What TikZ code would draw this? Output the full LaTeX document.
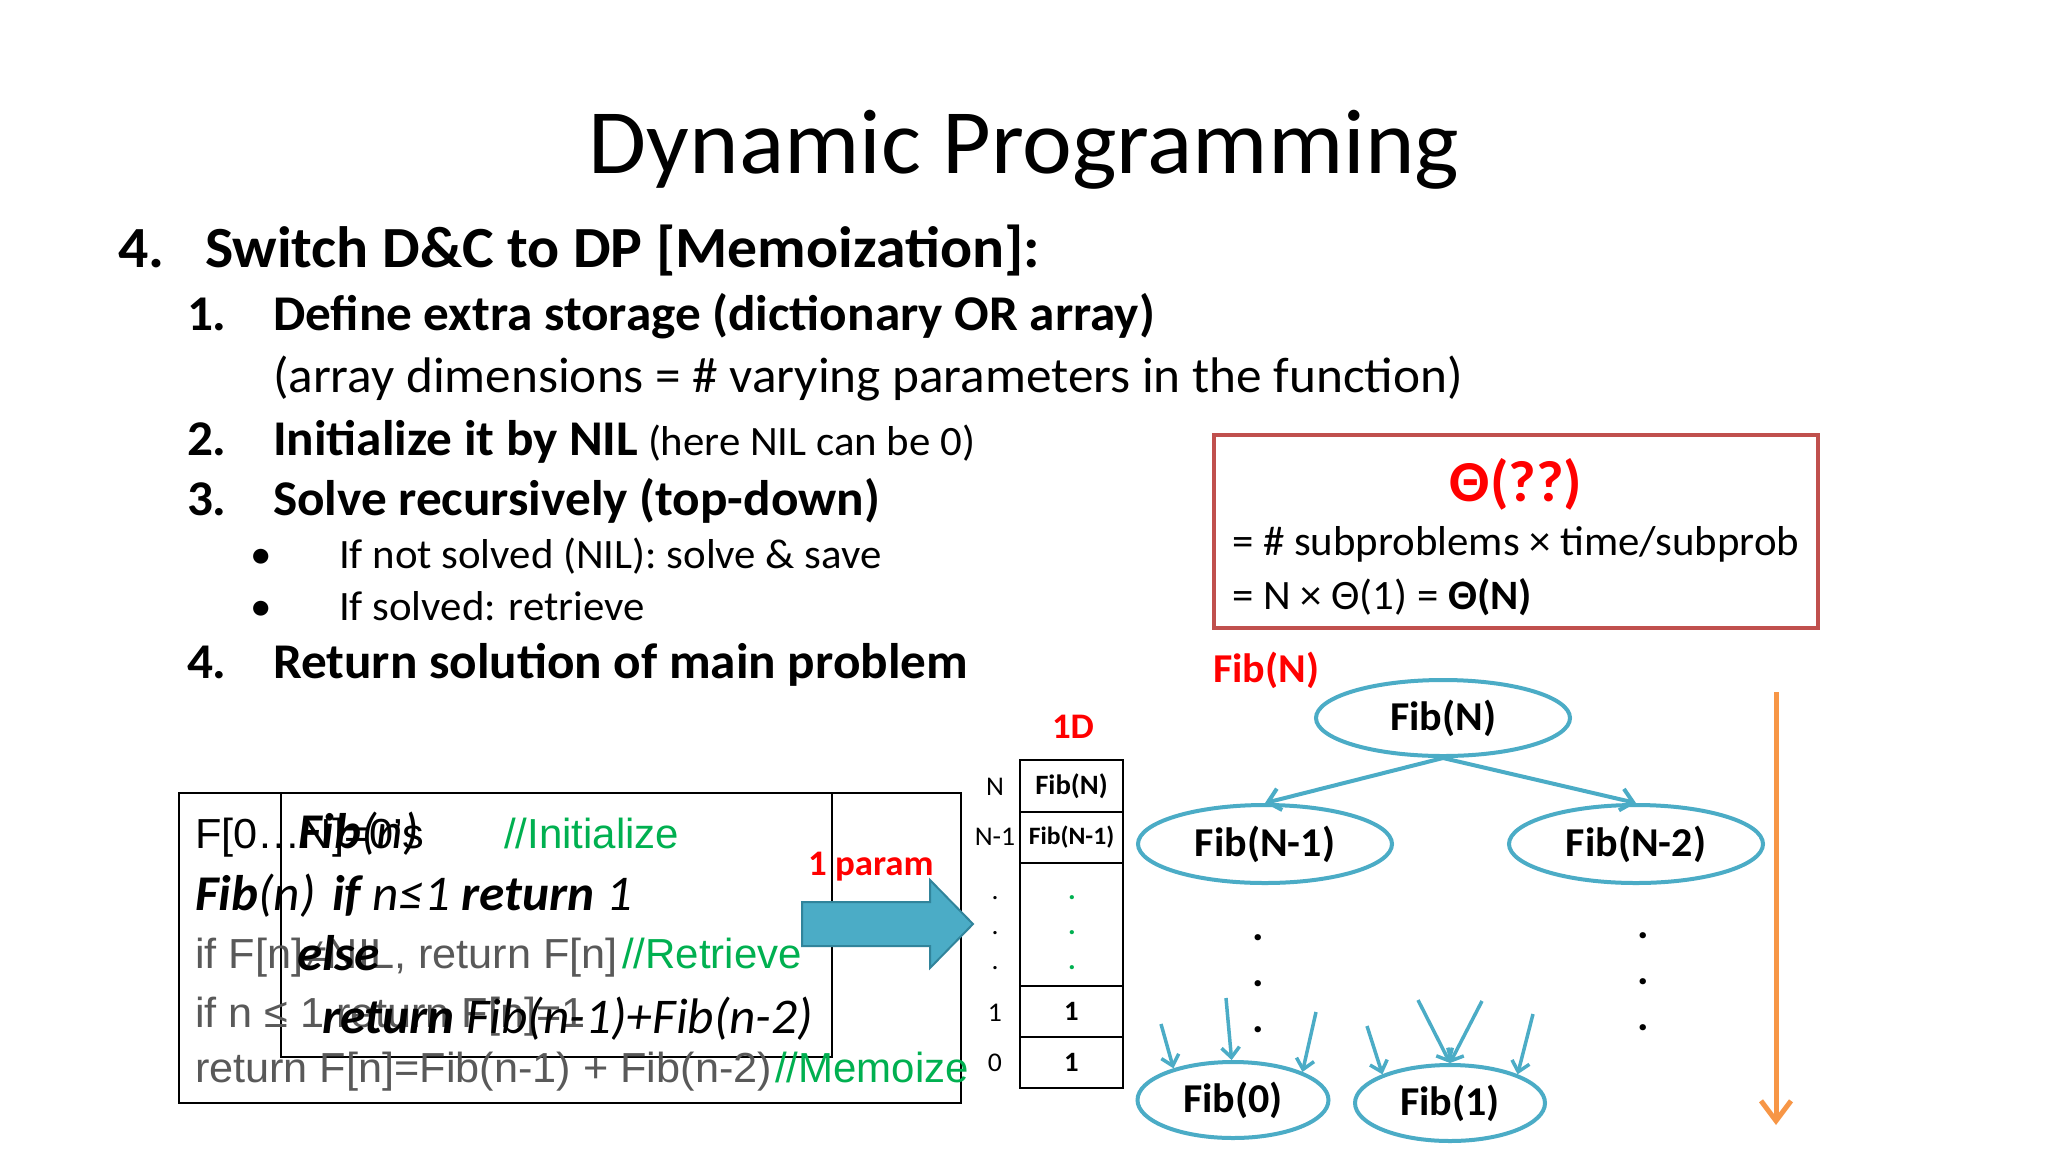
\documentclass[tikz,border=0pt]{standalone}
\usepackage{fontspec}
\setmainfont{Carlito}[FakeStretch=1.025]
\newfontfamily\arialf{Liberation Sans}[FakeStretch=1.03]
\newfontfamily\arialg{Liberation Sans}
\usetikzlibrary{arrows.meta,shapes.geometric}
\definecolor{tblue}{HTML}{4BACC6}
\definecolor{tbluedark}{HTML}{31849B}
\definecolor{boxred}{HTML}{C0504D}
\definecolor{tgreen}{HTML}{00B050}
\definecolor{torange}{HTML}{F79646}
\definecolor{tgray}{HTML}{595959}
\newcommand{\fsz}[1]{\fontsize{#1}{#1}\selectfont}
\begin{document}
\begin{tikzpicture}[x=1pt,y=-1pt,
  txt/.style={anchor=base west, inner sep=0pt, outer sep=0pt},
  ctxt/.style={anchor=base, inner sep=0pt, outer sep=0pt},
  lvlone/.style={txt, font=\bfseries\fsz{58.3}},
  lvltwo/.style={txt, font=\bfseries\fsz{50}},
  lvlthree/.style={txt, font=\fsz{41.8}},
  codegray/.style={txt, font=\arialf\fsz{42}, text=tgray},
  codegreen/.style={txt, font=\arialg\fsz{42}, text=tgreen},
  codebi/.style={txt, font=\bfseries\itshape\fsz{50}},
  cell/.style={draw, line width=2.5pt, minimum width=103pt, inner sep=0pt, font=\bfseries\fsz{28}},
  rowlabel/.style={inner sep=0pt, font=\fsz{27}},
  ell/.style={ellipse, draw=tblue, line width=4pt, inner sep=0pt, font=\bfseries\fsz{41}},
  tarrow/.style={draw=tblue, line width=4pt, -{Straight Barb[length=12pt,width=22pt]}},
  sarrow/.style={draw=tblue, line width=3.5pt, -{Straight Barb[length=10pt,width=18pt]}},
  treedot/.style={ctxt, font=\bfseries\fsz{42}}
]
\useasboundingbox[fill=white] (0,0) rectangle (2048,1152);

% title
\node[ctxt, font=\fsz{92}] (title) at (1024,173) {Dynamic Programming};

% list
\node[lvlone] (h4n) at (118,267) {4.};
\node[lvlone] (h4t) at (205,267) {Switch D\&C to DP [Memoization]:};
\node[lvltwo] (i1n) at (187,330) {1.};
\node[lvltwo] (i1t) at (273,330) {Define extra storage (dictionary OR array)};
\node[txt, font=\fsz{50}] (i1s) at (273,392) {(array dimensions = \# varying parameters in the function)};
\node[lvltwo] (i2n) at (187,455) {2.};
\node[lvltwo] (i2t) at (273,455) {Initialize it by NIL};
\node[lvlthree] (i2s) at (648,455) {(here NIL can be 0)};
\node[lvltwo] (i3n) at (187,515) {3.};
\node[lvltwo] (i3t) at (273,515) {Solve recursively (top-down)};
\node[ctxt, font=\fsz{42}] (b1) at (261,568) {\textbullet};
\node[lvlthree] (b1t) at (339,568) {If not solved (NIL): solve \& save};
\node[ctxt, font=\fsz{42}] (b2) at (261,620) {\textbullet};
\node[lvlthree] (b2t) at (339,620) {If solved: retrieve};
\node[lvltwo] (i4n) at (187,678) {4.};
\node[lvltwo] (i4t) at (273,678) {Return solution of main problem};

% theta box
\node[draw=boxred, line width=4pt, minimum width=604pt, minimum height=193pt, inner sep=0pt] (thetabox) at (1516,531.5) {};
\node[ctxt, font=\bfseries\fsz{58}, text=red] (theta) at (1516,501) {Θ(??)};
\node[lvlthree] (sub) at (1232,555) {= \# subproblems × time/subprob};
\node[lvlthree] (eq) at (1232,609) {= N × Θ(1) = \textbf{Θ(N)}};

% red labels
\node[txt, font=\bfseries\fsz{41}, text=red] (fibNlabel) at (1213,682) {Fib(N)};
\node[ctxt, font=\bfseries\fsz{36}, text=red] (oneD) at (1073,738) {1D};

% table
\node[cell, minimum height=52pt] (c1) at (1071.5,786) {Fib(N)};
\node[cell, minimum height=51pt] (c2) at (1071.5,837.5) {\fsz{25}Fib(N-1)};
\node[cell, minimum height=123pt] (c3) at (1071.5,924.5) {};
\node[cell, minimum height=51pt] (c4) at (1071.5,1011.5) {1};
\node[cell, minimum height=51pt] (c5) at (1071.5,1062.5) {1};
\node[ctxt, font=\bfseries\fsz{28}, text=tgreen] (gd1) at (1072,899) {.};
\node[ctxt, font=\bfseries\fsz{28}, text=tgreen] (gd2) at (1072,934) {.};
\node[ctxt, font=\bfseries\fsz{28}, text=tgreen] (gd3) at (1072,969) {.};
\node[rowlabel] (lN) at (995,787) {N};
\node[rowlabel] (lN1) at (995,837) {N-1};
\node[ctxt, font=\fsz{27}] (ld1) at (995,899) {.};
\node[ctxt, font=\fsz{27}] (ld2) at (995,934) {.};
\node[ctxt, font=\fsz{27}] (ld3) at (995,969) {.};
\node[rowlabel] (l1) at (995,1013) {1};
\node[rowlabel] (l0) at (995,1063) {0};

% code boxes
\node[draw, line width=1.5pt, minimum width=782pt, minimum height=310pt, inner sep=0pt] (outerbox) at (570,948) {};
\node[draw, line width=1.5pt, minimum width=551pt, minimum height=264pt, inner sep=0pt] (innerbox) at (556.5,925) {};

% code: gray layer
\node[txt, font=\arialf\fsz{42}] (g1) at (195,848) {F[0…N]=0’s};
\node[codegreen] (g1c) at (504,848) {//Initialize};
\node[codegray] (g3) at (195,968) {if F[n]≠NIL, return F[n]};
\node[codegreen] (g3c) at (622,968) {//Retrieve};
\node[codegray] (g4) at (195,1027) {if n ≤ 1 return F[n]=1};
\node[codegray] (g5) at (195,1082) {return F[n]=Fib(n-1) + Fib(n-2)};
\node[codegreen] (g5c) at (775,1082) {//Memoize};

% code: black layer
\node[codebi] (k1) at (298,848) {Fib\mdseries(n)};
\node[codebi] (k2) at (195,910) {Fib\mdseries(n)};
\node[codebi] (k2b) at (332,910) {if {\mdseries n≤1} return {\mdseries 1}};
\node[codebi] (k3) at (297,970) {else};
\node[codebi] (k4) at (322,1033) {return {\mdseries Fib(n-1)+Fib(n-2)}};

% 1 param + big arrow
\node[txt, font=\bfseries\fsz{36}, text=red] (param) at (808,875) {1 param};
\draw[fill=tblue, draw=tbluedark, line width=2pt] (802,902) -- (930,902) -- (930,880) -- (973,924) -- (930,968) -- (930,946) -- (802,946) -- cycle;

% tree
\node[ell, minimum width=254pt, minimum height=76pt] (fibN) at (1443,718) {Fib(N)};
\node[ell, minimum width=254pt, minimum height=78pt] (fibN1) at (1265,844) {Fib(N-1)};
\node[ell, minimum width=254pt, minimum height=78pt] (fibN2) at (1636,844) {Fib(N-2)};
\node[ell, minimum width=191pt, minimum height=76pt] (fib0) at (1233,1100) {Fib(0)};
\node[ell, minimum width=190pt, minimum height=76pt] (fib1) at (1450,1103) {Fib(1)};
\draw[tarrow] (fibN.south) -- (fibN1.north);
\draw[tarrow] (fibN.south) -- (fibN2.north);

\node[treedot] (dl1) at (1258,940) {.};
\node[treedot] (dl2) at (1258,986) {.};
\node[treedot] (dl3) at (1258,1032) {.};
\node[treedot] (dr1) at (1643,938) {.};
\node[treedot] (dr2) at (1643,984) {.};
\node[treedot] (dr3) at (1643,1030) {.};

\coordinate (a1) at (1161,1024);
\coordinate (a2) at (1226,998);
\coordinate (a3) at (1316,1012);
\coordinate (b1) at (1367,1026);
\coordinate (b2) at (1418,1000);
\coordinate (b3) at (1482,1001);
\coordinate (b4) at (1533,1014);
\draw[sarrow] (a1) -- (fib0.152);
\draw[sarrow] (a2) -- (fib0.92);
\draw[sarrow] (a3) -- (fib0.22);
\draw[sarrow] (b1) -- (fib1.157);
\draw[sarrow] (b2) -- (fib1.north);
\draw[sarrow] (b3) -- (fib1.north);
\draw[sarrow] (b4) -- (fib1.23);

% orange arrow
\coordinate (otop) at (1776,692);
\coordinate (obot) at (1776,1125);
\draw[draw=torange, line width=5pt, -{Straight Barb[length=20pt,width=30pt]}] (otop) -- (obot);
\end{tikzpicture}
\end{document}
